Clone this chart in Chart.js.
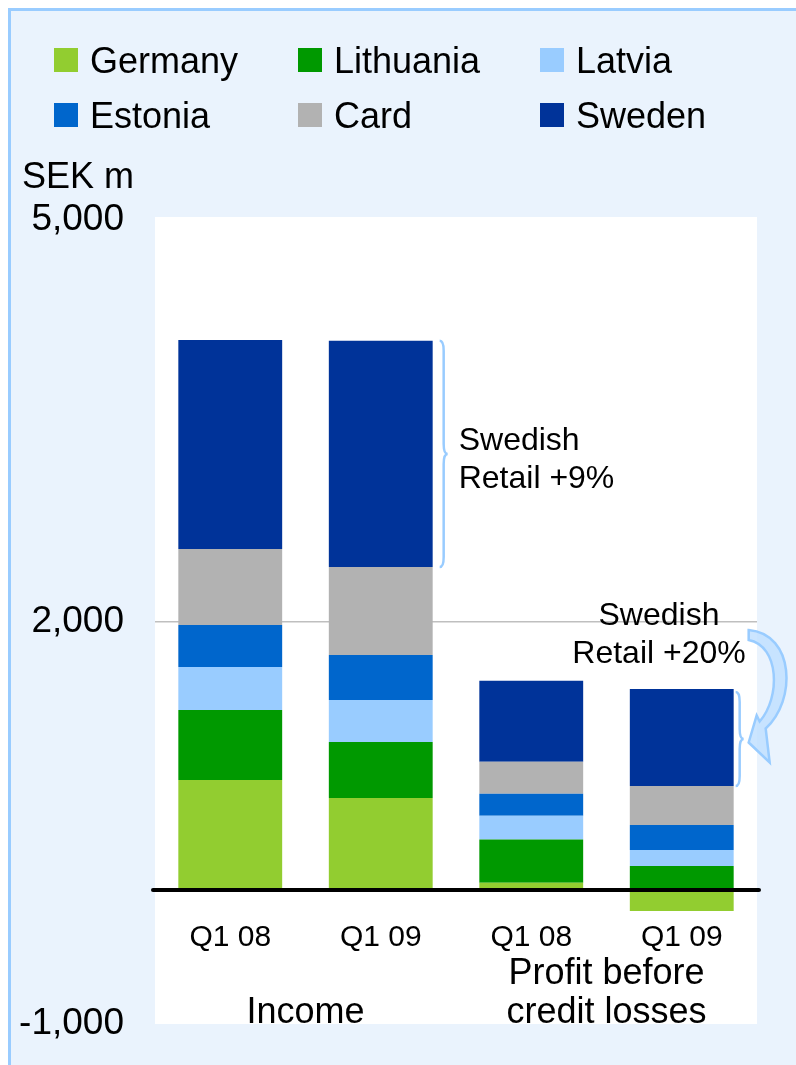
<!DOCTYPE html>
<html>
<head>
<meta charset="utf-8">
<script src="https://cdn.jsdelivr.net/npm/chart.js@4.4.1/dist/chart.umd.min.js"></script>
<style>
  html, body { margin: 0; padding: 0; background: #fff; }
  #frame {
    position: absolute; left: 8px; top: 8px; width: 788px; height: 1057px;
    background: #eaf3fd; border-left: 3px solid #9cf; border-top: 3px solid #9cf;
    box-sizing: border-box;
  }
  canvas { position: absolute; left: 0; top: 0; }
</style>
</head>
<body>
<div id="frame"></div>
<canvas id="chart" width="796" height="1065"></canvas>
<script>
// categories and groups
const categories = ['Q1 08', 'Q1 09', 'Q1 08', 'Q1 09'];
const groupLabels = [['Income'], ['Profit before', 'credit losses']];
const yTicks = [-1000, 2000, 5000];

// SEK m, per segment (Income Q1 08, Income Q1 09, PBCL Q1 08, PBCL Q1 09)
const germany   = [821, 687, 55, -157];
const lithuania = [522, 418, 321, 179];
const latvia    = [321, 313, 179, 119];
const estonia   = [313, 336, 164, 187];
const card      = [567, 657, 239, 291];
const sweden    = [1560, 1687, 604, 724];

const notes = ['Swedish', 'Retail +9%'];
const notes2 = ['Swedish', 'Retail +20%'];

const FONT = '"Liberation Sans", Arial, sans-serif';
Chart.defaults.font.family = FONT;
Chart.defaults.color = '#000';

function brace(ctx, x, y1, y2, w) {
  const m = (y1 + y2) / 2, r = Math.min(10, (y2 - y1) / 8);
  ctx.beginPath();
  ctx.moveTo(x, y1);
  ctx.quadraticCurveTo(x + w / 2, y1, x + w / 2, y1 + r);
  ctx.lineTo(x + w / 2, m - r);
  ctx.quadraticCurveTo(x + w / 2, m, x + w, m);
  ctx.quadraticCurveTo(x + w / 2, m, x + w / 2, m + r);
  ctx.lineTo(x + w / 2, y2 - r);
  ctx.quadraticCurveTo(x + w / 2, y2, x, y2);
  ctx.stroke();
}

const decor = {
  id: 'decor',
  beforeDraw(chart) {
    const { ctx, chartArea: a } = chart;
    ctx.save();
    ctx.fillStyle = '#fff';
    ctx.fillRect(a.left, a.top - 3, a.right - a.left, a.bottom - a.top + 3);
    ctx.restore();
  },
  afterDatasetsDraw(chart) {
    const { ctx, chartArea: a, scales: { x, y } } = chart;
    ctx.save();

    // zero line
    const y0 = y.getPixelForValue(0);
    ctx.strokeStyle = '#000';
    ctx.lineWidth = 4;
    ctx.lineCap = 'round';
    ctx.beginPath();
    ctx.moveTo(a.left - 2, y0);
    ctx.lineTo(a.right + 2, y0);
    ctx.stroke();

    // braces next to the Sweden segments
    const sw = chart.getDatasetMeta(5).data;
    ctx.strokeStyle = '#99ccff';
    ctx.lineWidth = 2.5;
    ctx.lineCap = 'butt';
    const b1 = sw[1], b2 = sw[3];
    const bx1 = b1.x + b1.width / 2 + 7;
    brace(ctx, bx1, b1.y, b1.base, 8);
    const bx2 = b2.x + b2.width / 2 + 2;
    brace(ctx, bx2, b2.y + 3, b2.base, 8);

    // curved arrow
    const tx = bx2 + 13, ty = (b2.y + b2.base) / 2 + 5;
    const sy = b2.y - 56;
    ctx.beginPath();
    ctx.moveTo(tx, sy - 3);
    ctx.bezierCurveTo(tx + 46, sy + 1, tx + 48, ty - 42, tx + 17, ty - 14);
    ctx.lineTo(tx + 21, ty + 20);
    ctx.lineTo(tx, ty);
    ctx.lineTo(tx + 8, ty - 27);
    ctx.lineTo(tx + 11, ty - 21);
    ctx.bezierCurveTo(tx + 32, ty - 45, tx + 31, sy + 13, tx, sy + 7);
    ctx.closePath();
    ctx.fillStyle = 'rgba(190,222,255,0.8)';
    ctx.fill();
    ctx.strokeStyle = '#99ccff';
    ctx.lineWidth = 2.5;
    ctx.stroke();

    // annotation texts
    ctx.fillStyle = '#000';
    ctx.font = '32px ' + FONT;
    ctx.textBaseline = 'alphabetic';
    ctx.textAlign = 'left';
    const ty1 = (b1.y + b1.base) / 2;
    ctx.fillText(notes[0], bx1 + 19, ty1 - 4);
    ctx.fillText(notes[1], bx1 + 19, ty1 + 34);
    ctx.textAlign = 'center';
    ctx.fillText(notes2[0], 659, y.getPixelForValue(2000) + 3);
    ctx.fillText(notes2[1], 659, y.getPixelForValue(2000) + 41);

    // group labels under the categories
    ctx.font = '36px ' + FONT;
    const gx1 = (x.getPixelForValue(0) + x.getPixelForValue(1)) / 2;
    const gx2 = (x.getPixelForValue(2) + x.getPixelForValue(3)) / 2;
    ctx.fillText(groupLabels[0][0], gx1, a.bottom - 1);
    ctx.fillText(groupLabels[1][0], gx2, a.bottom - 40);
    ctx.fillText(groupLabels[1][1], gx2, a.bottom - 1);

    // unit label
    ctx.textAlign = 'left';
    ctx.fillText('SEK m', 22, 188);

    // legend, three columns
    const colX = [54, 298, 540];
    chart.data.datasets.forEach((ds, i) => {
      const lx = colX[i % 3], ly = 48 + Math.floor(i / 3) * 55;
      ctx.fillStyle = ds.backgroundColor;
      ctx.fillRect(lx, ly, 24, 24);
      ctx.fillStyle = '#000';
      ctx.fillText(ds.label, lx + 36, ly + 25);
    });
    ctx.restore();
  }
};

new Chart(document.getElementById('chart'), {
  type: 'bar',
  data: {
    labels: categories,
    datasets: [
      { label: 'Germany', data: germany, backgroundColor: '#92cd30' },
      { label: 'Lithuania', data: lithuania, backgroundColor: '#009900' },
      { label: 'Latvia', data: latvia, backgroundColor: '#99ccff' },
      { label: 'Estonia', data: estonia, backgroundColor: '#0066cc' },
      { label: 'Card', data: card, backgroundColor: '#b2b2b2' },
      { label: 'Sweden', data: sweden, backgroundColor: '#003399' }
    ]
  },
  options: {
    responsive: false,
    animation: false,
    layout: { padding: { left: 0, top: 220, right: 39, bottom: 41 } },
    datasets: { bar: { barPercentage: 0.69, categoryPercentage: 1 } },
    plugins: { legend: { display: false }, tooltip: { enabled: false } },
    scales: {
      x: {
        stacked: true,
        position: { y: 0 },
        grid: { display: false, drawTicks: false },
        border: { display: false },
        ticks: { font: { size: 30 }, padding: 30, maxRotation: 0 }
      },
      y: {
        stacked: true,
        min: -1000,
        max: 5000,
        afterBuildTicks: s => { s.ticks = yTicks.map(v => ({ value: v })); },
        afterFit: s => { s.width = 155; s.paddingTop = 0; s.paddingBottom = 0; },
        grid: {
          drawTicks: false,
          color: c => c.tick && c.tick.value === 2000 ? '#bfbfbf' : 'rgba(0,0,0,0)',
          lineWidth: 1.5
        },
        border: { display: false },
        ticks: {
          font: { size: 37 },
          padding: 31,
          callback: v => v.toLocaleString('en-US')
        }
      }
    }
  },
  plugins: [decor]
});
</script>
</body>
</html>
